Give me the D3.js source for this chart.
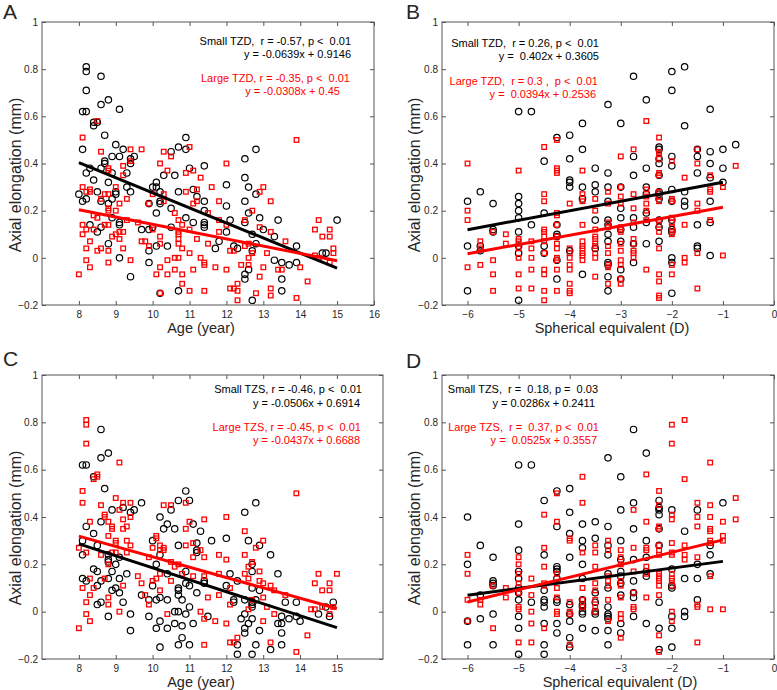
<!DOCTYPE html>
<html><head><meta charset="utf-8">
<script src="https://cdn.jsdelivr.net/npm/d3@7"></script>
<style>body{margin:0;background:#fff} text{font-family:"Liberation Sans",Arial,sans-serif}</style>
</head><body><svg id="c" width="777" height="690"></svg>
<script>
// ---------- DATA ----------
const yTicks = [-0.2, 0, 0.2, 0.4, 0.6, 0.8, 1];
const ageTicksA = [8, 9, 10, 11, 12, 13, 14, 15, 16];
const ageTicksC = [8, 9, 10, 11, 12, 13, 14, 15];
const seTicks = [-6, -5, -4, -3, -2, -1, 0];

// Panel A: Small TZD (black circles)
const ageSmallTZD = [8.0,8.1,8.1,8.1,8.2,8.2,8.2,8.2,8.2,8.2,8.3,8.3,8.4,8.4,8.4,8.5,8.5,8.5,8.6,8.6,8.6,8.6,8.6,8.7,8.7,8.7,8.8,8.8,8.8,8.8,8.9,8.9,8.9,8.9,9.0,9.0,9.0,9.1,9.1,9.1,9.1,9.1,9.2,9.3,9.3,9.4,9.4,9.4,9.4,9.5,9.7,9.9,9.9,9.9,9.9,10.0,10.0,10.1,10.1,10.1,10.1,10.2,10.2,10.2,10.2,10.3,10.4,10.5,10.5,10.5,10.6,10.7,10.7,10.7,10.9,10.9,10.9,11.0,11.1,11.1,11.2,11.4,11.4,11.4,11.4,11.4,11.4,11.7,11.8,12.0,12.0,12.0,12.1,12.2,12.3,12.5,12.5,12.5,12.5,12.5,12.5,12.6,12.6,12.6,12.7,12.7,12.7,12.8,12.8,12.8,12.9,13.0,13.3,13.3,13.4,13.5,13.5,13.5,13.7,13.9,13.9,14.6,14.7,15.0];
const alSmallTZD  = [0.27,0.46,0.24,0.62,0.62,0.71,0.81,0.79,0.36,0.25,0.14,0.38,0.33,0.56,0.575,0.575,0.28,0.11,0.13,0.77,0.65,0.38,0.24,0.52,0.40,0.41,0.67,0.32,0.23,0.06,0.43,0.36,0.17,0.25,0.48,0.27,0.28,0.63,0.43,0.15,0.14,0.00,0.46,0.36,0.30,0.40,0.42,0.28,-0.08,0.43,0.12,0.23,0.12,0.03,-0.02,0.30,0.13,0.32,0.30,0.19,0.05,0.28,0.24,0.23,-0.15,0.35,0.05,0.45,0.21,0.13,0.35,0.47,0.28,-0.14,0.51,0.46,0.17,0.38,0.29,0.15,0.26,0.39,0.24,0.20,0.15,0.14,0.13,0.04,0.07,0.31,0.22,0.11,0.16,0.05,0.04,0.42,0.34,0.24,0.15,-0.07,-0.09,0.30,0.19,-0.05,0.10,0.03,-0.18,0.46,0.27,0.06,0.17,0.12,0.09,-0.01,0.16,-0.02,-0.09,-0.14,-0.03,0.05,-0.02,0.02,0.02,0.16];
// Panel A: Large TZD (red squares)
const ageLargeTZD = [8.0,8.1,8.1,8.1,8.1,8.2,8.2,8.2,8.2,8.3,8.3,8.3,8.3,8.4,8.4,8.5,8.5,8.5,8.6,8.6,8.6,8.7,8.7,8.8,8.8,8.8,8.8,8.8,8.8,8.8,8.8,8.9,9.0,9.0,9.0,9.1,9.1,9.1,9.2,9.2,9.2,9.2,9.3,9.3,9.4,9.4,9.4,9.6,9.7,9.7,9.8,9.9,9.9,10.0,10.0,10.1,10.2,10.2,10.2,10.2,10.2,10.3,10.3,10.3,10.4,10.4,10.4,10.5,10.6,10.6,10.6,10.7,10.7,10.7,10.7,10.7,10.7,10.8,10.8,10.8,10.8,10.9,10.9,11.0,11.0,11.0,11.0,11.1,11.1,11.1,11.2,11.2,11.2,11.3,11.3,11.4,11.4,11.4,11.5,11.5,11.6,11.7,11.8,11.8,11.8,12.0,12.0,12.0,12.1,12.1,12.2,12.2,12.3,12.3,12.3,12.4,12.5,12.5,12.6,12.6,12.6,12.7,12.7,12.8,12.9,12.9,12.9,13.0,13.0,13.1,13.2,13.2,13.2,13.2,13.4,13.5,13.6,13.9,13.9,14.0,14.2,14.4,14.5,14.6,14.8,14.8,14.8,14.9,14.9,14.5,14.4];
const alLargeTZD  = [-0.07,0.51,0.30,0.14,0.10,0.28,0.04,-0.01,0.12,0.29,0.28,0.07,-0.04,0.18,0.12,0.58,0.17,0.03,0.45,0.25,0.04,0.27,0.14,0.38,0.37,0.27,0.21,0.20,0.03,-0.02,0.14,0.09,0.30,0.20,0.10,0.23,0.11,0.08,0.39,0.35,0.11,0.04,0.25,0.16,0.46,0.41,-0.01,0.15,0.46,0.07,0.07,0.23,0.05,0.27,0.12,-0.07,0.40,0.09,0.06,-0.04,-0.15,0.45,0.27,0.24,0.37,-0.01,-0.07,0.43,0.19,0.00,-0.05,0.16,0.11,0.10,0.08,0.06,0.00,0.14,0.04,-0.07,-0.11,0.36,0.28,0.47,0.12,0.02,-0.14,0.37,0.23,-0.05,0.29,0.24,0.08,0.34,0.00,-0.02,-0.03,-0.14,0.19,0.06,0.30,-0.04,0.24,0.11,0.16,0.40,-0.05,0.14,0.03,-0.13,-0.13,0.03,-0.11,-0.14,-0.18,-0.03,0.16,0.05,0.00,-0.03,0.06,0.20,0.02,-0.15,0.28,0.13,-0.08,0.30,-0.04,0.02,0.24,0.11,-0.13,-0.16,-0.05,-0.05,0.07,0.50,-0.17,-0.04,-0.10,0.12,0.16,0.09,0.12,0.09,-0.02,0.04,0.02,0.00,0.01];

// Panel B: Small TZD (black circles)
const seSmallTZD = [-6,-6,-6,-5.75,-5.75,-5.75,-5.5,-5.5,-5.5,-5,-5,-5,-5,-5,-5,-5,-5,-5,-4.75,-4.75,-4.5,-4.5,-4.5,-4.5,-4.25,-4.25,-4.25,-4.25,-4.25,-4.25,-4,-4,-4,-4,-4,-4,-3.75,-3.75,-3.75,-3.75,-3.75,-3.5,-3.5,-3.5,-3.5,-3.5,-3.25,-3.25,-3.25,-3.25,-3.25,-3.25,-3.25,-3.25,-3.25,-3.25,-3.25,-3.25,-3,-3,-3,-3,-3,-3,-3,-3,-2.75,-2.75,-2.75,-2.75,-2.75,-2.75,-2.75,-2.5,-2.5,-2.5,-2.5,-2.5,-2.5,-2.5,-2.25,-2.25,-2.25,-2.25,-2.25,-2.25,-2.25,-2.25,-2.25,-2.25,-2.25,-2,-2,-2,-2,-2,-2,-2,-2,-2,-2,-2,-2,-1.75,-1.75,-1.75,-1.75,-1.75,-1.5,-1.5,-1.5,-1.5,-1.5,-1.5,-1.25,-1.25,-1.25,-1.25,-1.25,-1.25,-1.25,-1,-1,-1,-0.75];
const alSeSmallTZD = [0.24,0.05,-0.14,0.28,0.05,0.03,0.23,0.12,0.11,0.62,0.26,0.23,0.20,0.17,0.11,0.05,0.02,-0.18,0.62,0.14,0.41,0.19,0.05,0.02,0.51,0.14,0.10,0.09,-0.01,-0.09,0.52,0.42,0.33,0.32,0.30,0.03,0.57,0.46,0.30,0.25,-0.07,0.38,0.31,0.28,0.16,0.04,0.65,0.36,0.30,0.24,0.16,0.14,0.10,0.07,-0.02,-0.03,-0.08,-0.14,0.57,0.30,0.21,0.17,0.12,0.07,-0.05,-0.09,0.77,0.43,0.35,0.17,0.13,0.06,-0.02,0.67,0.38,0.30,0.27,0.19,0.15,0.06,0.47,0.46,0.42,0.40,0.35,0.28,0.27,0.25,0.16,0.13,0.07,0.79,0.71,0.43,0.39,0.29,0.24,0.16,0.12,0.11,0.00,-0.02,-0.15,0.81,0.56,0.28,0.24,0.22,0.46,0.43,0.36,0.14,0.05,0.04,0.63,0.45,0.40,0.34,0.24,0.15,0.01,0.46,0.38,0.32,0.48];
// Panel B: Large TZD (red squares)
const seLargeTZD = [-6,-6,-6,-6,-5.75,-5.75,-5.75,-5.5,-5.5,-5.5,-5.5,-5.25,-5.25,-5,-5,-5,-5,-5,-5,-5,-4.75,-4.75,-4.75,-4.75,-4.75,-4.5,-4.5,-4.5,-4.5,-4.5,-4.5,-4.5,-4.5,-4.5,-4.5,-4.5,-4.5,-4.25,-4.25,-4.25,-4.25,-4.25,-4.25,-4.25,-4.25,-4.25,-4.25,-4.25,-4.25,-4.25,-4.25,-4,-4,-4,-4,-4,-4,-4,-4,-4,-3.75,-3.75,-3.75,-3.75,-3.75,-3.75,-3.75,-3.75,-3.75,-3.75,-3.5,-3.5,-3.5,-3.5,-3.5,-3.5,-3.5,-3.5,-3.5,-3.5,-3.25,-3.25,-3.25,-3.25,-3.25,-3.25,-3.25,-3.25,-3.25,-3,-3,-3,-3,-3,-3,-3,-3,-3,-3,-3,-3,-3,-2.75,-2.75,-2.75,-2.75,-2.75,-2.75,-2.75,-2.75,-2.75,-2.5,-2.5,-2.5,-2.5,-2.5,-2.5,-2.5,-2.25,-2.25,-2.25,-2.25,-2.25,-2.25,-2.25,-2.25,-2.25,-2.25,-2.25,-2.25,-2.25,-2.25,-2.25,-2.25,-2.25,-2,-2,-2,-2,-2,-2,-2,-2,-2,-2,-1.75,-1.75,-1.75,-1.75,-1.5,-1.5,-1.5,-1.5,-1.5,-1.5,-1.25,-1.25,-1.25,-1.25,-1,-1,-0.75];
const alSeLargeTZD = [0.40,0.20,0.16,-0.04,0.07,0.04,-0.03,0.11,-0.01,-0.07,-0.14,0.10,0.06,0.37,0.08,0.07,0.04,0.00,-0.07,-0.13,0.07,0.04,0.00,-0.05,-0.13,0.47,0.27,0.24,0.12,0.11,0.09,0.07,0.02,-0.05,-0.07,-0.14,-0.18,0.50,0.38,0.37,0.36,0.19,0.18,0.14,0.09,0.06,0.04,0.00,-0.01,-0.05,-0.14,0.23,0.04,0.02,0.00,-0.03,-0.05,-0.11,-0.14,-0.15,0.37,0.27,0.24,0.14,0.07,0.05,0.04,0.02,0.01,-0.01,0.25,0.20,0.12,0.09,0.08,0.06,0.05,0.02,0.00,-0.08,0.28,0.23,0.15,0.13,0.05,0.02,-0.03,-0.04,-0.11,0.43,0.30,0.26,0.23,0.13,0.12,0.11,0.06,0.03,-0.01,-0.03,-0.09,-0.11,0.46,0.27,0.21,0.15,0.08,0.06,0.03,0.02,0.00,0.58,0.29,0.26,0.23,0.20,0.16,-0.05,0.51,0.45,0.44,0.42,0.36,0.35,0.28,0.26,0.24,0.16,0.14,0.11,0.04,-0.07,-0.10,-0.16,-0.17,0.41,0.25,0.24,0.17,0.15,0.13,0.11,0.10,-0.03,-0.07,0.34,0.14,0.00,-0.02,0.46,0.40,0.23,0.20,0.02,-0.13,0.35,0.29,0.28,0.16,0.30,0.01,0.39];

// Panel C: Small TZS (black circles)
const ageSmallTZS = [8.1,8.2,8.1,8.1,8.2,8.2,8.1,8.4,8.4,8.4,8.5,8.5,8.5,8.5,8.6,8.6,8.6,8.6,8.6,8.7,8.8,8.8,8.8,8.8,8.8,8.8,8.9,8.9,8.9,9.0,9.0,9.1,9.1,9.1,9.2,9.2,9.3,9.4,9.4,9.4,9.5,9.7,9.7,9.9,9.9,10.0,10.0,10.1,10.1,10.1,10.2,10.2,10.2,10.2,10.2,10.3,10.4,10.4,10.4,10.4,10.5,10.6,10.6,10.6,10.7,10.7,10.7,10.7,10.7,10.7,10.7,10.8,10.8,10.8,10.9,10.9,10.9,10.9,11.0,11.0,11.0,11.0,11.1,11.1,11.2,11.2,11.2,11.2,11.3,11.4,11.4,11.5,11.6,12.0,12.0,12.1,12.2,12.2,12.3,12.3,12.3,12.4,12.5,12.5,12.5,12.5,12.5,12.6,12.6,12.7,12.7,12.7,12.7,12.7,12.7,12.7,12.7,12.8,12.8,12.8,12.9,12.9,12.9,13.2,13.2,13.4,13.4,13.5,13.5,13.5,13.5,13.6,13.7,13.9,13.9,14.0,14.5,14.7,14.8,14.9];
const alSmallTZS  = [0.62,0.62,0.24,0.14,0.36,0.13,0.30,0.33,0.57,0.18,0.28,0.17,0.11,0.03,0.77,0.65,0.38,0.13,0.04,0.52,0.67,0.24,0.22,0.21,0.14,-0.02,0.43,0.17,0.09,0.20,0.10,0.23,0.14,0.08,0.44,0.04,0.16,0.42,-0.01,-0.08,0.43,0.46,0.07,0.05,-0.02,0.30,0.11,0.20,0.05,-0.07,0.40,0.24,0.06,-0.04,-0.15,0.35,0.37,0.16,0.05,-0.07,0.43,0.35,0.00,-0.05,0.47,0.28,0.10,0.09,0.07,0.00,-0.14,0.05,-0.06,-0.11,0.51,0.17,0.12,-0.01,0.47,0.11,0.02,-0.14,0.37,-0.05,0.29,0.26,0.25,0.08,0.34,0.13,0.12,-0.02,0.30,0.31,0.11,0.16,0.04,0.05,-0.14,-0.18,0.13,-0.03,0.42,0.05,-0.07,-0.09,-0.01,0.30,-0.05,0.20,0.17,0.10,0.04,0.03,0.02,-0.03,-0.18,0.46,0.05,-0.14,0.28,-0.08,0.09,0.24,-0.16,0.16,-0.05,-0.02,-0.05,-0.09,-0.14,0.04,-0.03,0.04,-0.02,-0.04,-0.01,0.02,-0.02,0.04];
// Panel C: Large TZS (red squares)
const ageLargeTZS = [8.0,8.0,8.1,8.1,8.1,8.2,8.2,8.2,8.2,8.2,8.2,8.3,8.3,8.3,8.3,8.4,8.4,8.5,8.5,8.6,8.6,8.7,8.7,8.7,8.8,8.8,8.8,8.8,8.8,8.9,8.9,8.9,9.0,9.0,9.0,9.0,9.1,9.1,9.1,9.2,9.2,9.2,9.2,9.3,9.3,9.3,9.4,9.4,9.4,9.6,9.7,9.8,9.9,9.9,10.0,10.0,10.1,10.1,10.1,10.2,10.2,10.2,10.2,10.3,10.3,10.3,10.4,10.5,10.5,10.5,10.6,10.7,10.8,10.9,10.9,10.9,11.0,11.1,11.1,11.1,11.3,11.3,11.4,11.4,11.4,11.4,11.4,11.5,11.8,11.8,11.8,11.7,12.0,12.0,12.0,12.1,12.1,12.1,12.2,12.3,12.5,12.5,12.5,12.6,12.6,12.6,12.7,12.7,12.8,12.9,12.9,13.0,13.0,13.0,13.0,13.1,13.2,13.2,13.3,13.3,13.6,13.9,13.9,14.2,14.3,14.4,14.4,14.5,14.6,14.6,14.8,14.8,14.8,15.0,14.9];
const alLargeTZS  = [-0.07,0.27,0.51,0.46,0.10,0.81,0.79,0.71,0.25,0.04,-0.01,0.38,0.14,0.07,-0.04,0.10,0.56,0.58,0.57,0.45,0.24,0.41,0.40,0.14,0.38,0.32,0.20,0.06,0.03,0.36,0.35,0.25,0.48,0.30,0.29,0.25,0.63,0.43,0.00,0.46,0.35,0.39,0.11,0.36,0.30,0.25,0.46,0.40,0.28,0.15,0.12,0.07,0.23,0.03,0.27,0.13,0.32,0.31,0.14,0.28,0.26,0.09,0.16,0.45,0.27,0.26,-0.01,0.45,0.21,0.13,0.19,0.20,0.16,0.35,0.28,0.46,0.38,0.29,0.23,0.15,0.26,0.00,0.39,0.23,0.15,-0.03,-0.14,0.06,0.24,0.16,0.07,-0.04,0.40,0.22,-0.05,0.10,0.03,-0.13,-0.13,-0.11,0.34,0.24,0.16,0.19,0.14,0.01,0.21,0.05,0.27,0.17,0.13,0.30,0.12,0.06,-0.04,0.02,0.11,-0.13,-0.01,0.09,0.07,0.50,-0.17,-0.10,0.01,0.01,0.12,0.16,0.09,0.02,0.12,0.09,-0.01,0.16,0.02];

// Panel D: Small TZS (black circles)
const seSmallTZS = [-6,-6,-6,-6,-5.75,-5.75,-5.75,-5.5,-5.5,-5.5,-5.5,-5.5,-5.5,-5,-5,-5,-5,-5,-5,-5,-5,-5,-5,-5,-4.75,-4.75,-4.5,-4.5,-4.5,-4.5,-4.5,-4.5,-4.5,-4.5,-4.5,-4.25,-4.25,-4.25,-4.25,-4.25,-4.25,-4.25,-4.25,-4.25,-4.25,-4,-4,-4,-4,-4,-4,-4,-4,-4,-3.75,-3.75,-3.75,-3.75,-3.75,-3.75,-3.75,-3.75,-3.75,-3.75,-3.75,-3.5,-3.5,-3.5,-3.5,-3.5,-3.5,-3.5,-3.25,-3.25,-3.25,-3.25,-3.25,-3.25,-3.25,-3.25,-3.25,-3.25,-3.25,-3.25,-3,-3,-3,-3,-3,-3,-3,-3,-3,-3,-2.75,-2.75,-2.75,-2.75,-2.75,-2.75,-2.75,-2.75,-2.5,-2.5,-2.5,-2.5,-2.5,-2.5,-2.25,-2.25,-2.25,-2.25,-2.25,-2.25,-2.25,-2.25,-2.25,-2,-2,-2,-2,-2,-2,-2,-1.75,-1.75,-1.75,-1.75,-1.5,-1.5,-1.5,-1.5,-1.25,-1.25,-1.25,-1];
const alSeSmallTZS = [0.40,0.20,-0.04,-0.14,0.28,0.07,-0.03,0.23,0.13,0.12,0.11,-0.01,-0.14,0.62,0.37,0.26,0.17,0.14,0.10,0.08,0.05,-0.02,-0.07,-0.18,0.62,0.04,0.47,0.24,0.09,0.05,0.04,0.02,-0.05,-0.14,-0.18,0.51,0.36,0.19,0.18,0.17,0.14,0.05,0.04,-0.05,-0.09,0.52,0.42,0.33,0.23,0.03,-0.01,-0.04,-0.11,-0.15,0.37,0.30,0.27,0.20,0.14,0.05,0.03,0.02,0.00,-0.01,-0.07,0.38,0.31,0.08,0.04,0.00,-0.01,-0.08,0.65,0.36,0.28,0.24,0.16,0.10,0.02,-0.01,-0.02,-0.03,-0.08,-0.14,0.57,0.43,0.30,0.22,0.17,0.15,0.12,0.07,-0.05,-0.09,0.77,0.46,0.35,0.22,0.13,0.08,0.06,-0.02,0.67,0.30,0.23,0.17,0.15,-0.05,0.47,0.44,0.43,0.41,0.35,0.28,0.04,-0.07,-0.16,0.43,0.18,0.11,0.10,-0.02,-0.07,-0.15,0.34,0.14,0.00,-0.02,0.43,0.20,0.14,0.05,0.28,0.24,0.16,0.46];
// Panel D: Large TZS (red squares)
const seLargeTZS = [-6,-6,-6,-6,-5.75,-5.75,-5.5,-5.5,-5.25,-5.25,-5,-5,-5,-5,-5,-5,-5,-5,-4.75,-4.75,-4.75,-4.75,-4.75,-4.5,-4.5,-4.5,-4.5,-4.5,-4.5,-4.25,-4.25,-4.25,-4.25,-4.25,-4.25,-4.25,-4,-4,-4,-4,-4,-4,-3.75,-3.75,-3.75,-3.75,-3.75,-3.75,-3.5,-3.5,-3.5,-3.5,-3.5,-3.5,-3.5,-3.5,-3.25,-3.25,-3.25,-3.25,-3.25,-3.25,-3.25,-3,-3,-3,-3,-3,-3,-3,-3,-3,-2.75,-2.75,-2.75,-2.75,-2.75,-2.75,-2.5,-2.5,-2.5,-2.5,-2.5,-2.5,-2.5,-2.25,-2.25,-2.25,-2.25,-2.25,-2.25,-2.25,-2.25,-2.25,-2.25,-2.25,-2.25,-2.25,-2.25,-2.25,-2,-2,-2,-2,-2,-2,-2,-2,-2,-2,-2,-2,-2,-1.75,-1.75,-1.75,-1.75,-1.75,-1.5,-1.5,-1.5,-1.5,-1.5,-1.5,-1.5,-1.25,-1.25,-1.25,-1.25,-1.25,-1.25,-1.25,-1.25,-1.25,-1,-1,-1,-1,-0.75,-0.75];
const alSeLargeTZS = [0.24,0.16,0.05,-0.04,0.05,0.03,0.11,-0.07,0.10,0.06,0.23,0.20,0.16,0.12,0.08,0.02,0.01,-0.13,0.14,0.07,0.00,-0.05,-0.13,0.41,0.27,0.19,0.12,0.11,-0.07,0.50,0.38,0.16,0.10,0.06,0.00,-0.01,0.31,0.30,0.04,0.00,-0.01,-0.14,0.57,0.46,0.25,0.10,0.05,0.02,0.28,0.25,0.19,0.12,0.09,0.05,0.02,0.00,0.30,0.26,0.15,0.13,0.11,0.05,-0.04,0.26,0.23,0.20,0.13,0.11,0.06,-0.01,-0.03,-0.11,0.43,0.27,0.17,0.08,0.02,0.01,0.58,0.38,0.27,0.26,0.19,0.16,0.06,0.51,0.45,0.36,0.35,0.28,0.26,0.24,0.16,0.15,0.14,0.13,0.11,0.07,-0.10,-0.17,0.79,0.71,0.41,0.39,0.29,0.25,0.24,0.16,0.14,0.13,0.11,0.00,-0.04,0.81,0.56,0.28,0.24,0.22,0.46,0.40,0.36,0.23,0.03,0.02,-0.13,0.63,0.45,0.40,0.35,0.34,0.30,0.29,0.15,0.01,0.38,0.32,0.30,0.01,0.48,0.39];

// regression fits: [slope, intercept] for [small, large]
const fitA = [[-0.0639, 0.9146], [-0.0308, 0.45]];
const fitB = [[0.0402, 0.3605], [0.0394, 0.2536]];
const fitC = [[-0.0506, 0.6914], [-0.0437, 0.6688]];
const fitD = [[0.0286, 0.2411], [0.0525, 0.3557]];
const fitRangeAge = [8, 15];
const fitRangeSE = [-6, -1];

const notesA = ["Small TZD,  r = -0.57, p <  0.01", "y = -0.0639x + 0.9146", "Large TZD, r = -0.35, p <  0.01", "y = -0.0308x + 0.45"];
const notesB = ["Small TZD,  r = 0.26, p <  0.01", "y =  0.402x + 0.3605", "Large TZD,  r = 0.3 ,  p <  0.01", "y =  0.0394x + 0.2536"];
const notesC = ["Small TZS, r = -0.46, p <  0.01", "y = -0.0506x + 0.6914", "Large TZS, r = -0.45, p <  0.01", "y = -0.0437x + 0.6688"];
const notesD = ["Small TZS,  r =  0.18, p =  0.03", "y = 0.0286x + 0.2411", "Large TZS,  r =  0.37, p <  0.01", "y =  0.0525x + 0.3557"];

// ---------- DRAW ----------
const svg = d3.select("#c");
const RED = "#ff0000", BLACK = "#000000", AXIS = "#555555", LABEL = "#262626";

const panels = [
  {letter:"A", lx:3, ly:19, xr:[42,374], yr:[305,22], xd:[7,16], xt:ageTicksA,
   small:[ageSmallTZD, alSmallTZD], large:[ageLargeTZD, alLargeTZD], fit:fitA, fr:fitRangeAge,
   notes:notesA, nx:[351,351,350,340], ny:[45,58,82,95], xTitle:"Age (year)", xtx:201, xty:333, yty:175, ytx:20.5},
  {letter:"B", lx:406, ly:19, xr:[442,774], yr:[305,22], xd:[-6.5,0], xt:seTicks,
   small:[seSmallTZD, alSeSmallTZD], large:[seLargeTZD, alSeLargeTZD], fit:fitB, fr:fitRangeSE,
   notes:notesB, nx:[599,599,598,596], ny:[47,60,85,98], xTitle:"Spherical equivalent (D)", xtx:612, xty:333, yty:175, ytx:420},
  {letter:"C", lx:3, ly:366, xr:[42,383], yr:[659,375], xd:[7,16.25], xt:ageTicksC,
   small:[ageSmallTZS, alSmallTZS], large:[ageLargeTZS, alLargeTZS], fit:fitC, fr:fitRangeAge,
   notes:notesC, nx:[362,360,361,360], ny:[393,407,431,444], xTitle:"Age (year)", xtx:201, xty:687, yty:528, ytx:20.5},
  {letter:"D", lx:406, ly:368, xr:[442,774], yr:[659,375], xd:[-6.5,0], xt:seTicks,
   small:[seSmallTZS, alSeSmallTZS], large:[seLargeTZS, alSeLargeTZS], fit:fitD, fr:fitRangeSE,
   notes:notesD, nx:[598,595,599,597], ny:[393,407,431,444], xTitle:"Spherical equivalent (D)", xtx:620, xty:687, yty:528, ytx:420}
];

panels.forEach(p => {
  const g = svg.append("g");
  const x = d3.scaleLinear().domain(p.xd).range(p.xr);
  const y = d3.scaleLinear().domain([-0.2, 1]).range(p.yr);

  // box
  g.append("rect").attr("x", p.xr[0]).attr("y", p.yr[1])
    .attr("width", p.xr[1]-p.xr[0]).attr("height", p.yr[0]-p.yr[1])
    .attr("fill", "none").attr("stroke", AXIS).attr("stroke-width", 1);

  // axes with inward ticks
  const fmt = d => d3.format("")(Math.round(d*10)/10);
  const ax = g.append("g").attr("transform", `translate(0,${p.yr[0]})`)
    .call(d3.axisBottom(x).tickValues(p.xt).tickSizeInner(-4).tickSizeOuter(0).tickPadding(6).tickFormat(d3.format("d")));
  const ay = g.append("g").attr("transform", `translate(${p.xr[0]},0)`)
    .call(d3.axisLeft(y).tickValues(yTicks).tickSizeInner(-4).tickSizeOuter(0).tickPadding(4).tickFormat(fmt));
  const ar = g.append("g").attr("transform", `translate(${p.xr[1]},0)`)
    .call(d3.axisRight(y).tickValues(yTicks).tickSizeInner(-4).tickSizeOuter(0).tickFormat(""));
  const at = g.append("g").attr("transform", `translate(0,${p.yr[1]})`)
    .call(d3.axisTop(x).tickValues(p.xt).tickSizeInner(-4).tickSizeOuter(0).tickFormat(""));
  [ax, ay, ar, at].forEach(a => {
    a.select(".domain").remove();
    a.selectAll(".tick line").attr("stroke", AXIS);
    a.selectAll(".tick text").attr("fill", LABEL).style("font-size", "10px")
      .style("font-family", '"Liberation Sans", Arial, sans-serif');
  });

  // points
  const smallPts = p.small[0].map((v, i) => [v, p.small[1][i]]);
  const largePts = p.large[0].map((v, i) => [v, p.large[1][i]]);
  g.append("g").selectAll("circle").data(smallPts).join("circle")
    .attr("cx", d => x(d[0])).attr("cy", d => y(d[1])).attr("r", 3.2)
    .attr("fill", "none").attr("stroke", BLACK).attr("stroke-width", 1.2);
  const s = 4.6;
  g.append("g").selectAll("rect").data(largePts).join("rect")
    .attr("x", d => x(d[0]) - s/2).attr("y", d => y(d[1]) - s/2).attr("width", s).attr("height", s)
    .attr("fill", "none").attr("stroke", RED).attr("stroke-width", 1.3);

  // regression lines
  const line = d3.line().x(d => x(d[0])).y(d => y(d[1]));
  [[p.fit[0], BLACK], [p.fit[1], RED]].forEach(([f, c]) => {
    const pts = p.fr.map(v => [v, f[0]*v + f[1]]);
    g.append("path").attr("d", line(pts)).attr("stroke", c).attr("stroke-width", 3).attr("fill", "none");
  });

  // annotations
  p.notes.forEach((t, i) => {
    g.append("text").attr("x", p.nx[i]).attr("y", p.ny[i]).attr("text-anchor", "end")
      .style("white-space", "pre").style("font-size", "11px")
      .attr("fill", i < 2 ? BLACK : RED).text(t);
  });

  // titles
  g.append("text").attr("x", p.xtx).attr("y", p.xty).attr("text-anchor", "middle")
    .style("font-size", "14.5px").attr("fill", LABEL).text(p.xTitle);
  g.append("text").attr("transform", `translate(${p.ytx},${p.yty}) rotate(-90)`)
    .attr("text-anchor", "middle").style("font-size", "16px").attr("fill", LABEL).text("Axial elongation (mm)");
  g.append("text").attr("x", p.lx).attr("y", p.ly).style("font-size", "21px").attr("fill", LABEL).text(p.letter);
});
</script></body></html>
